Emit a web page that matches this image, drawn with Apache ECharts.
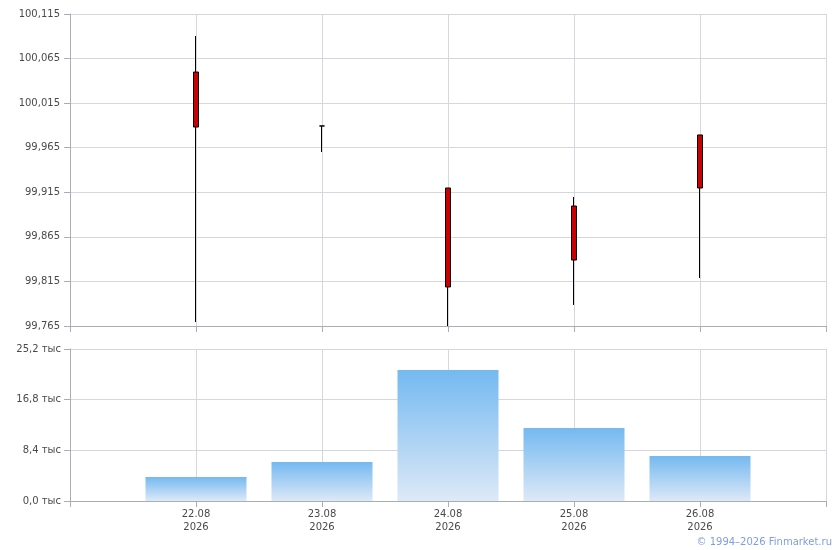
<!DOCTYPE html>
<html>
<head>
<meta charset="utf-8">
<script src="https://cdn.jsdelivr.net/npm/echarts@6/dist/echarts.min.js"></script>
<style>
html,body{margin:0;padding:0;background:#fff;}
#chart{width:840px;height:550px;}
</style>
</head>
<body>
<div id="chart"></div>
<script>
// ---- data ----
const dates = ['22.08', '23.08', '24.08', '25.08', '26.08'];
const year = '2026';
// [open, close, low, high]
const opens  = [100.0499, 99.9894, 99.9198, 99.8996, 99.9793];
const closes = [99.9882,  99.9894, 99.8088, 99.8390, 99.9198];
const lows   = [99.7695,  99.9602, 99.7650, 99.7886, 99.8188];
const highs  = [100.0903, 99.9894, 99.9198, 99.9097, 99.9793];
const volumes = [3980, 6470, 21720, 12100, 7460];
const priceTicks = { min: 99.765, max: 100.115, interval: 0.05 };
const volTicks = { min: 0, max: 25200, interval: 8400 };

// ---- build ----
const axisCats = [''].concat(dates, ['']);
const candleData = ['-'].concat(dates.map((d, i) => [opens[i], closes[i], lows[i], highs[i]]), ['-']);
const volData = ['-'].concat(volumes, ['-']);

const font = 'DejaVu Sans, Verdana, sans-serif';
const labelColor = '#4a4a4a';
const axisColor = '#a9aeb6';
const gridColor = '#d3d8dd';

const chart = echarts.init(document.getElementById('chart'));
chart.setOption({
  animation: false,
  backgroundColor: '#fff',
  textStyle: { fontFamily: font },
  grid: [
    { left: 70, right: 14, top: 14, height: 312, containLabel: false },
    { left: 70, right: 14, top: 349, height: 152, containLabel: false }
  ],
  xAxis: [
    {
      type: 'category', gridIndex: 0, data: axisCats, boundaryGap: false,
      axisLine: { lineStyle: { color: axisColor, width: 1 } },
      axisTick: { show: true, length: 6, lineStyle: { color: axisColor } },
      axisLabel: { show: false },
      splitLine: { show: true, lineStyle: { color: gridColor, width: 1 } }
    },
    {
      type: 'category', gridIndex: 1, data: axisCats, boundaryGap: false,
      axisLine: { lineStyle: { color: axisColor, width: 1 } },
      axisTick: { show: true, length: 6, lineStyle: { color: axisColor } },
      axisLabel: {
        color: labelColor, fontSize: 10, fontFamily: font, lineHeight: 13, margin: 7,
        formatter: v => v ? v + '\n' + year : ''
      },
      splitLine: { show: true, lineStyle: { color: gridColor, width: 1 } }
    }
  ],
  yAxis: [
    {
      type: 'value', gridIndex: 0, min: priceTicks.min, max: priceTicks.max, interval: priceTicks.interval,
      axisLine: { show: true, lineStyle: { color: axisColor, width: 1 } },
      axisTick: { show: true, length: 6, lineStyle: { color: axisColor } },
      axisLabel: {
        color: labelColor, fontSize: 10, fontFamily: font, margin: 10,
        formatter: v => v.toFixed(3).replace('.', ',')
      },
      splitLine: { show: true, lineStyle: { color: gridColor, width: 1 } }
    },
    {
      type: 'value', gridIndex: 1, min: volTicks.min, max: volTicks.max, interval: volTicks.interval,
      axisLine: { show: true, lineStyle: { color: axisColor, width: 1 } },
      axisTick: { show: true, length: 6, lineStyle: { color: axisColor } },
      axisLabel: {
        color: labelColor, fontSize: 10, fontFamily: font, margin: 9,
        formatter: v => (v / 1000).toFixed(1).replace('.', ',') + ' тыс'
      },
      splitLine: { show: true, lineStyle: { color: gridColor, width: 1 } }
    }
  ],
  series: [
    {
      type: 'candlestick', xAxisIndex: 0, yAxisIndex: 0, data: candleData,
      barWidth: 6,
      itemStyle: {
        color: '#cc0000', color0: '#cc0000',
        borderColor: '#000', borderColor0: '#000', borderWidth: 1
      }
    },
    {
      type: 'bar', xAxisIndex: 1, yAxisIndex: 1, data: volData,
      barWidth: 101,
      itemStyle: {
        color: new echarts.graphic.LinearGradient(0, 0, 0, 1, [
          { offset: 0, color: '#74b9f0' },
          { offset: 1, color: '#dde9f7' }
        ])
      }
    }
  ],
  graphic: [
    {
      type: 'text', right: 8, top: 537,
      style: { text: '© 1994–2026 Finmarket.ru', fill: '#7f9de2', font: '10px ' + font }
    }
  ]
});
</script>
</body>
</html>
